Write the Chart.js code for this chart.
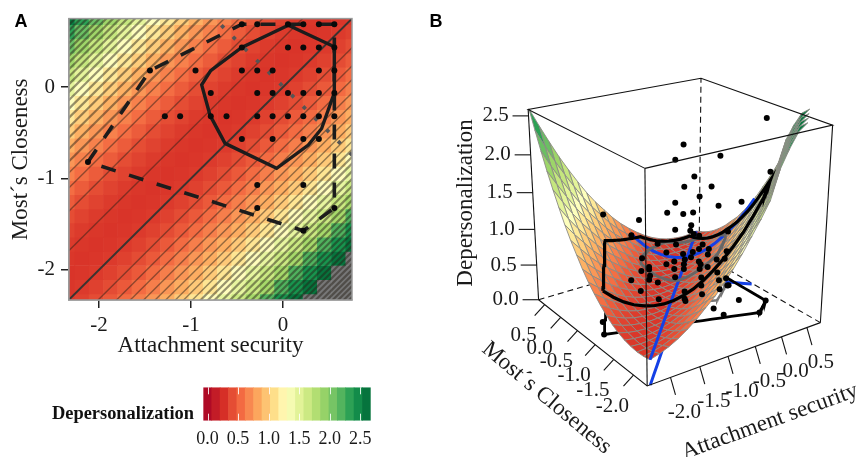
<!DOCTYPE html>
<html>
<head>
<meta charset="utf-8">
<script src="https://cdn.jsdelivr.net/npm/chart.js@4/dist/chart.umd.min.js"></script>
<style>
body { margin: 0; background: #fff; }
canvas { position: absolute; }
</style>
</head>
<body>
<canvas id="panelA" width="400" height="360" style="left:0px;top:0px"></canvas>
<canvas id="legendBar" width="400" height="87" style="left:0px;top:370px"></canvas>
<canvas id="panelB" width="441" height="457" style="left:420px;top:0px"></canvas>
<script>
const SERIF = "'Liberation Serif'";

// fitted surface, read along the diagonals of the heat map (attachment - closeness)
const gridX = [-2.34, -2.185, -2.03, -1.875, -1.72, -1.565, -1.41, -1.255, -1.1, -0.945, -0.79, -0.635, -0.48, -0.325, -0.17, -0.015, 0.14, 0.295, 0.45, 0.605, 0.76];
const gridY = [-2.34, -2.185, -2.03, -1.875, -1.72, -1.565, -1.41, -1.255, -1.1, -0.945, -0.79, -0.635, -0.48, -0.325, -0.17, -0.015, 0.14, 0.295, 0.45, 0.605, 0.76];
const depProfile = [
    2.57, 2.33, 2.1, 1.88, 1.68, 1.49, 1.31, 1.15, 1.01, 0.87,
    0.75, 0.65, 0.56, 0.48, 0.415, 0.365, 0.33, 0.31, 0.3, 0.306,
    0.326,
    0.36, 0.408, 0.47, 0.55, 0.64, 0.75, 0.856, 0.99, 1.13, 1.29,
    1.47, 1.65, 1.85, 2.2, 2.42, 2.6, 2.68, null, null, null,
];
const profileStep = 0.155;

// contour lines, as attachment - closeness at which they cross
const contourMain = [0];
const contourOffsets = [
    -3.073, -3.01, -2.946, -2.88, -2.812, -2.742, -2.671, -2.597, -2.521, -2.442,
    -2.359, -2.274, -2.185, -2.091, -1.992, -1.887, -1.774, -1.652, -1.515, -1.388,
    -1.225, -0.971, -0.537,
    0.32, 0.52, 0.67, 0.815, 0.94, 1.055, 1.16, 1.25, 1.345, 1.435, 1.515, 1.587,
    1.672, 1.755, 1.835, 1.913, 1.99, 2.065, 2.14, 2.21, 2.28, 2.35, 2.42, 2.49,
    2.555, 2.62, 2.685, 2.75, 2.81, 2.87, 2.93, 2.99, 3.05,
];

// participants on the attachment / closeness plane
const pointX = [
    -0.447, -0.28, 0.054, 0.221, 0.39, 0.558,
    -0.447, 0.054, 0.221, 0.39, 0.558,
    -1.446, -0.951, -0.447, -0.28, -0.113, 0.39, 0.558,
    -0.785, -0.28, -0.113, 0.054, 0.221, 0.39, 0.558,
    -1.284, -1.118, -0.785, -0.614, -0.28, -0.113, 0.054, 0.221, 0.39, 0.558,
    -0.447, -0.113, 0.221, 0.39,
    -2.12,
    -0.28, 0.221,
    -0.28, 0.558,
    0.221,
];
const pointY = [
    0.688, 0.688, 0.688, 0.688, 0.688, 0.688,
    0.435, 0.435, 0.435, 0.435, 0.435,
    0.181, 0.181, 0.181, 0.181, 0.181, 0.181, 0.181,
    -0.065, -0.065, -0.065, -0.065, -0.065, -0.065, -0.065,
    -0.319, -0.319, -0.319, -0.319, -0.319, -0.319, -0.319, -0.319, -0.319, -0.319,
    -0.569, -0.569, -0.569, -0.569,
    -0.82,
    -1.072, -1.072,
    -1.322, -1.322,
    -1.572,
];

// line of incongruence markers
const markX = [-0.656, -0.53, -0.403, -0.275, -0.148, -0.022, 0.105, 0.232, 0.359, 0.486, 0.612, 0.739];
const markY = [0.663, 0.537, 0.41, 0.283, 0.156, 0.029, -0.098, -0.225, -0.351, -0.478, -0.605, -0.732];

const bagX = [0.058, 0.558, 0.558, 0.42, 0.275, -0.069, -0.63, -0.793, -0.884, -0.786, -0.449, 0.058];
const bagY = [0.678, 0.442, -0.062, -0.453, -0.634, -0.888, -0.616, -0.308, 0.025, 0.181, 0.435, 0.678];
const loopX = [-2.12, -1.446, -0.447, 0.558, 0.558, 0.221, -2.12];
const loopY = [-0.82, 0.181, 0.688, 0.688, -1.322, -1.572, -0.82];

// 3d cloud
const scoreX = [
    0.62, -0.26, -0.35, 0.14, 0.68, -0.14, -0.25, 0.05, -0.08, -0.35, 0.38, 0.13, -0.44, -0.26, -0.15, -1.17, -0.76, -0.17, -0.35,
    -0.18, -0.14, -0.08, -0.85, 0.24, -0.55, -0.34, -0.04, -0.08, 0.03, -0.45, -0.26, -0.15, -0.17, -0.24, 0.23, -0.73, -0.36,
    -0.25, -0.08, -0.06, 0.12, 0.21, 0.02, -0.65, -0.65, -0.45, -0.36, -0.25, -0.07, 0.02, -0.74, -0.64, -0.65, -0.55, -0.86,
    -0.35, -0.05, 0.13, 0.15, -0.75, 0.16, -0.05, -0.24, -0.04, -0.54, -0.24, -0.23, -1.21, 0.23, 0.26,
];
const scoreY = [
    -1.12, -0.24, -0.15, -0.64, -1.18, -0.36, -0.25, -0.55, -0.42, -0.15, -0.88, -0.63, -0.06, -0.24, -0.35, 0.67, 0.26, -0.33, -0.15,
    -0.32, -0.36, -0.42, 0.35, -0.74, 0.05, -0.16, -0.46, -0.42, -0.53, -0.05, -0.24, -0.35, -0.33, -0.26, -0.73, 0.23, -0.14,
    -0.25, -0.42, -0.44, -0.62, -0.71, -0.52, 0.15, 0.15, -0.05, -0.14, -0.25, -0.43, -0.52, 0.24, 0.14, 0.15, 0.05, 0.36,
    -0.15, -0.45, -0.63, -0.65, 0.25, -0.66, -0.45, -0.26, -0.46, 0.04, -0.26, -0.27, 0.71, -0.73, -0.76,
];
const scoreZ = [
    2.43, 2.02, 1.81, 1.9, 1.73, 1.6, 1.45, 1.48, 1.33, 1.22, 1.3, 1.22, 1.07, 1.07, 1.1, 0.98, 0.94, 0.92, 0.84, 0.84, 0.8,
    0.78, 0.71, 0.87, 0.62, 0.63, 0.66, 0.59, 0.6, 0.5, 0.5, 0.54, 0.46, 0.42, 0.59, 0.39, 0.38, 0.35, 0.41, 0.37, 0.46, 0.48,
    0.52, 0.27, 0.23, 0.33, 0.27, 0.28, 0.3, 0.34, 0.2, 0.14, 0.08, 0.05, 0.05, 0.15, 0.18, 0.27, 0.16, -0.1, 0.03, 0.06, -0.05,
    -0.07, -0.2, -0.16, -0.19, -0.63, 0.2, 0.1,
];

// ticks
const ticksA = [-2, -1, 0];
const ticks3dX = [-2, -1.5, -1, -0.5, 0, 0.5];
const ticks3dY = [-2, -1.5, -1, -0.5, 0, 0.5];
const ticks3dZ = [0, 0.5, 1, 1.5, 2, 2.5];
const legendTicks = [0, 0.5, 1, 1.5, 2, 2.5];

// colour scale
const paletteValues = [-0.07, 0.28, 0.56, 0.86, 1.1, 1.3, 1.574, 1.848, 2.122, 2.396, 2.67];
const paletteColors = ["#a50026", "#d73027", "#f46d43", "#fdae61", "#fee08b", "#ffffbf", "#d9ef8b", "#a6d96a", "#66bd63", "#1a9850", "#006837"];
const legendLevels = [0, 0.137, 0.274, 0.411, 0.548, 0.685, 0.822, 0.959, 1.096, 1.233, 1.37, 1.507, 1.644, 1.781, 1.918, 2.055, 2.192, 2.329, 2.466, 2.603];

function hexRgb(h) {
    return [1, 3, 5].map((i) => parseInt(h.slice(i, i + 2), 16));
}

function colourFor(z) {
    if (z === null || z > 2.65) return "#777777";
    let i = 0;
    while (i < paletteValues.length - 2 && z > paletteValues[i + 1]) i++;
    const t = Math.min(1, Math.max(0, (z - paletteValues[i]) / (paletteValues[i + 1] - paletteValues[i])));
    const a = hexRgb(paletteColors[i]);
    const b = hexRgb(paletteColors[i + 1]);
    return `rgb(${a.map((c, n) => Math.round(c + (b[n] - c) * t)).join(",")})`;
}

function line(data, color, width, extra) {
    return Object.assign({
        data: data,
        showLine: true,
        borderColor: color,
        backgroundColor: color,
        borderWidth: width,
        pointRadius: 0,
        tension: 0,
    }, extra);
}

function text(ctx, str, x, y, font, opts) {
    const o = opts || {};
    ctx.save();
    ctx.translate(x, y);
    if (o.rot) ctx.rotate(o.rot);
    ctx.font = font;
    ctx.fillStyle = o.color || "#1a1a1a";
    ctx.textAlign = o.align || "center";
    ctx.textBaseline = "middle";
    ctx.fillText(str, 0, 0);
    ctx.restore();
}

/* ---------- panel A ---------- */
const heatCells = [];
const heatColors = [];
gridY.forEach((y, j) => {
    gridX.forEach((x, i) => {
        heatCells.push({ x: x, y: y });
        heatColors.push(colourFor(depProfile[i - j + 20]));
    });
});

const contourSets = contourOffsets.map((c) =>
    line([{ x: -4, y: -4 - c }, { x: 2, y: 2 - c }], "rgba(38,32,24,0.48)", Math.abs(c) > 1.4 ? 2.2 : 1.4, {})
);
const contourMainSets = contourMain.map((c) =>
    line([{ x: -4, y: -4 - c }, { x: 2, y: 2 - c }], "#3a3330", 2, {})
);

const zip = (xs, ys) => xs.map((x, i) => ({ x: x, y: ys[i] }));

new Chart(document.getElementById("panelA"), {
    type: "scatter",
    data: {
        datasets: [
            {
                data: zip(pointX, pointY),
                backgroundColor: "#0a0a0a",
                pointRadius: 3,
                pointBorderWidth: 0,
                clip: false,
            },
            line(zip(bagX, bagY), "#1c1c1c", 3.4, { borderJoinStyle: "miter" }),
            line(zip(loopX, loopY), "#1c1c1c", 3.6, { borderDash: [15, 14] }),
            {
                data: zip(markX, markY),
                backgroundColor: "#555",
                pointStyle: "rectRot",
                pointRadius: 2.6,
                pointBorderWidth: 0,
            },
            ...contourMainSets,
            ...contourSets,
            {
                data: heatCells,
                pointStyle: "rect",
                pointBackgroundColor: heatColors,
                pointBorderWidth: 0,
                pointRadius: 10.5,
                clip: 0,
            },
        ],
    },
    options: {
        responsive: false,
        animation: false,
        events: [],
        layout: { padding: { top: 16, right: 48, left: 0, bottom: 0 } },
        plugins: { legend: { display: false }, tooltip: { enabled: false } },
        scales: {
            x: {
                type: "linear",
                min: -2.326,
                max: 0.75,
                afterBuildTicks: (s) => { s.ticks = ticksA.map((v) => ({ value: v })); },
                afterFit: (s) => { s.height = 60; },
                border: { color: "#999", width: 1.5 },
                grid: { drawOnChartArea: false, drawTicks: true, tickLength: 8, color: "#222", lineWidth: 1.5 },
                ticks: { color: "#1a1a1a", padding: 5, maxRotation: 0, font: { family: SERIF, size: 21 }, callback: (v) => String(v) },
                title: { display: true, text: "Attachment security", color: "#1a1a1a", padding: 0, font: { family: SERIF, size: 23 } },
            },
            y: {
                type: "linear",
                min: -2.33,
                max: 0.75,
                afterBuildTicks: (s) => { s.ticks = ticksA.map((v) => ({ value: v })); },
                afterFit: (s) => { s.width = 69; },
                border: { color: "#999", width: 1.5 },
                grid: { drawOnChartArea: false, drawTicks: true, tickLength: 8, color: "#222", lineWidth: 1.5 },
                ticks: { color: "#1a1a1a", padding: 6, font: { family: SERIF, size: 21 }, callback: (v) => String(v) },
                title: { display: true, text: "Most\u00b4s Closeness", color: "#1a1a1a", padding: { top: 7, bottom: 0 }, font: { family: SERIF, size: 23 } },
            },
        },
    },
    plugins: [{
        id: "frameA",
        afterDraw(chart) {
            const { ctx, chartArea: a } = chart;
            ctx.save();
            ctx.strokeStyle = "#999";
            ctx.lineWidth = 1.5;
            ctx.strokeRect(a.left, a.top, a.right - a.left, a.bottom - a.top);
            ctx.restore();
            text(ctx, "A", 21, 22, "bold 18px 'Liberation Sans'", { color: "#000" });
        },
    }],
});

/* ---------- colour bar ---------- */
new Chart(document.getElementById("legendBar"), {
    type: "bar",
    data: {
        datasets: [{
            data: legendLevels.map((v) => ({ x: v, y: 1 })),
            backgroundColor: legendLevels.map(colourFor),
            borderWidth: 0,
            barPercentage: 1.08,
            categoryPercentage: 1,
        }],
    },
    options: {
        responsive: false,
        animation: false,
        events: [],
        layout: { padding: { top: 17.3, right: 29.3, left: 0, bottom: 0 } },
        plugins: { legend: { display: false }, tooltip: { enabled: false } },
        scales: {
            x: {
                type: "linear",
                min: -0.07,
                max: 2.67,
                offset: false,
                afterBuildTicks: (s) => { s.ticks = legendTicks.map((v) => ({ value: v })); },
                afterFit: (s) => { s.height = 36.3; },
                border: { display: false },
                grid: { display: false },
                ticks: { color: "#1a1a1a", padding: 0, maxRotation: 0, font: { family: SERIF, size: 18 }, callback: (v) => v.toFixed(1) },
            },
            y: {
                min: 0,
                max: 1,
                display: true,
                afterFit: (s) => { s.width = 203.3; },
                border: { display: false },
                grid: { display: false },
                ticks: { display: false },
            },
        },
    },
    plugins: [{
        id: "legendMarks",
        afterDatasetsDraw(chart) {
            const { ctx, chartArea: a, scales } = chart;
            ctx.save();
            ctx.strokeStyle = "rgba(255,255,255,0.85)";
            ctx.lineWidth = 1;
            legendTicks.forEach((v) => {
                const px = Math.round(scales.x.getPixelForValue(v)) + 0.5;
                ctx.beginPath();
                ctx.moveTo(px, a.top);
                ctx.lineTo(px, a.top + 7);
                ctx.moveTo(px, a.bottom - 7);
                ctx.lineTo(px, a.bottom);
                ctx.stroke();
            });
            ctx.restore();
            text(ctx, "Depersonalization", 194, 44, "bold 18.4px " + SERIF, { align: "right", color: "#111" });
        },
    }],
});

/* ---------- panel B ---------- */
const xMin = -2.385, xSpan = 3.157, ySpan = 3.03, yMin = -2.333, zSpan = 2.58;
const O = [647.3, 388.7], U = [823.7, 324.3], V = [536.7, 301], W = [645, 167.3];
const wU = 1.12, wV = 1.17, wW = 0.915;

// perspective view fitted to the corners of the box
function project(x, y, z) {
    const u = (x - xMin) / xSpan, v = (y - yMin) / ySpan, w = z / zSpan;
    const d = 1 + u * (wU - 1) + v * (wV - 1) + w * (wW - 1);
    const p = [0, 1].map((i) => O[i] + u * (wU * U[i] - O[i]) + v * (wV * V[i] - O[i]) + w * (wW * W[i] - O[i]));
    return { x: p[0] / d, y: p[1] / d };
}

function depAt(d) {
    const t = Math.max(0, Math.min(40, d / profileStep + 20));
    const i = Math.min(39, Math.floor(t));
    const a = depProfile[i], b = depProfile[i + 1];
    if (a === null || b === null) return a === null ? b : a;
    return a + (b - a) * (t - i);
}

// follow a polygon over the surface (draped) or over the floor
function pathOn(xs, ys, draped) {
    const out = [];
    for (let i = 0; i < xs.length - 1; i++) {
        for (let s = 0; s <= 16; s++) {
            const x = xs[i] + (xs[i + 1] - xs[i]) * s / 16;
            const y = ys[i] + (ys[i + 1] - ys[i]) * s / 16;
            out.push(project(x, y, draped ? depAt(x - y) : 0));
        }
    }
    return out;
}

const locX = [-2.34, 0.75], locY = [-2.34, 0.75];
const loicX = [-0.66, 0.75], loicY = [0.66, -0.75];
const xMax = xMin + xSpan, yMax = yMin + ySpan;

const surfaceVerts = [];
gridY.forEach((y, j) => {
    gridX.forEach((x, i) => {
        const z = depProfile[i - j + 20];
        surfaceVerts.push(project(x, y, z === null ? 0 : z));
    });
});

const BLUE = "#1440e6";
const boxColor = "#111";
const datasetsB = [
    // hidden edges behind the surface
    line([project(xMin, yMax, 0), project(xMax, yMax, 0)], boxColor, 1.1, { borderDash: [6, 4], order: 9 }),
    line([project(xMax, yMin, 0), project(xMax, yMax, 0)], boxColor, 1.1, { borderDash: [6, 4], order: 9 }),
    line([project(xMax, yMax, 0), project(xMax, yMax, zSpan)], boxColor, 1.1, { borderDash: [6, 4], order: 9 }),
    // floor projection
    line(pathOn(bagX, bagY, false), "#777", 2.5, { order: 8 }),
    line(pathOn(loopX, loopY, false), "#000", 2.8, { order: 8 }),
    line(pathOn(locX, locY, false), BLUE, 3, { order: 8 }),
    line(pathOn(loicX, loicY, false), BLUE, 3, { order: 8 }),
    {
        data: pointX.map((x, i) => project(x, pointY[i], 0)),
        backgroundColor: "#000",
        pointRadius: 3,
        pointBorderWidth: 0,
        order: 7,
    },
    { data: surfaceVerts, surfaceLayer: true, pointRadius: 0, order: 5 },
    // on the surface
    line(pathOn(locX, locY, true), BLUE, 3, { order: 4 }),
    line(pathOn(loicX, loicY, true), BLUE, 3, { order: 4 }),
    line(pathOn(bagX, bagY, true), "#666", 2.8, { order: 3.5 }),
    line(pathOn(loopX, loopY, true), "#000", 3.2, { order: 3 }),
    {
        data: scoreX.map((x, i) => project(x, scoreY[i], scoreZ[i])),
        backgroundColor: "#000",
        pointRadius: 3,
        pointBorderWidth: 0,
        order: 2,
    },
    // visible box edges
    line([project(xMin, yMin, 0), project(xMin, yMin, zSpan)], boxColor, 1.1, { order: 1 }),
    line([project(xMax, yMin, 0), project(xMax, yMin, zSpan)], boxColor, 1.1, { order: 1 }),
    line([project(xMin, yMax, 0), project(xMin, yMax, zSpan)], boxColor, 1.1, { order: 1 }),
    line([project(xMin, yMax, 0), project(xMin, yMin, 0), project(xMax, yMin, 0)], boxColor, 1.1, { order: 1 }),
    line([project(xMin, yMin, zSpan), project(xMax, yMin, zSpan), project(xMax, yMax, zSpan), project(xMin, yMax, zSpan), project(xMin, yMin, zSpan)], boxColor, 1.1, { order: 1 }),
];

new Chart(document.getElementById("panelB"), {
    type: "scatter",
    data: { datasets: datasetsB },
    options: {
        responsive: false,
        animation: false,
        events: [],
        layout: { padding: 0 },
        plugins: { legend: { display: false }, tooltip: { enabled: false } },
        scales: {
            x: { type: "linear", min: 420, max: 861, display: false },
            y: { type: "linear", min: 0, max: 457, reverse: true, display: false },
        },
    },
    plugins: [{
        id: "surface",
        beforeDatasetDraw(chart, args) {
            const ds = chart.data.datasets[args.index];
            if (!ds.surfaceLayer) return;
            const ctx = chart.ctx;
            const pts = chart.getDatasetMeta(args.index).data;
            const n = gridX.length;
            const cells = [];
            for (let j = 0; j < n - 1; j++) {
                for (let i = 0; i < n - 1; i++) cells.push([i, j]);
            }
            cells.sort((a, b) => (b[0] + b[1]) - (a[0] + a[1]));
            ctx.save();
            ctx.lineWidth = 0.9;
            ctx.strokeStyle = "#8b8b84";
            cells.forEach(([i, j]) => {
                const z = [[i, j], [i + 1, j], [i + 1, j + 1], [i, j + 1]].map(([a, b]) => depProfile[a - b + 20]);
                if (z.includes(null)) return;
                const mean = z.reduce((s, v) => s + v, 0) / 4;
                const c = [j * n + i, j * n + i + 1, (j + 1) * n + i + 1, (j + 1) * n + i].map((k) => pts[k]);
                ctx.beginPath();
                ctx.moveTo(c[0].x, c[0].y);
                c.slice(1).forEach((p) => ctx.lineTo(p.x, p.y));
                ctx.closePath();
                ctx.fillStyle = colourFor(mean);
                ctx.fill();
                ctx.stroke();
            });
            ctx.restore();
        },
        afterDraw(chart) {
            const { ctx, scales } = chart;
            const px = (p) => ({ x: scales.x.getPixelForValue(p.x), y: scales.y.getPixelForValue(p.y) });
            const font = "21px " + SERIF;
            const tick = (p, dx, dy) => {
                ctx.save();
                ctx.strokeStyle = "#111";
                ctx.lineWidth = 1.1;
                ctx.beginPath();
                ctx.moveTo(p.x, p.y);
                ctx.lineTo(p.x + dx, p.y + dy);
                ctx.stroke();
                ctx.restore();
            };
            ticks3dX.forEach((v) => {
                const p = px(project(v, yMin, 0));
                tick(p, 5, 17.5);
                text(ctx, v.toFixed(1), p.x + 14, p.y + 35, font);
            });
            ticks3dY.forEach((v) => {
                const p = px(project(xMin, v, 0));
                tick(p, -10, 11);
                text(ctx, v.toFixed(1), p.x - 21, p.y + 31, font);
            });
            ticks3dZ.forEach((v) => {
                const p = px(project(xMin, yMax, v));
                tick(p, -16, 0);
                text(ctx, v.toFixed(1), p.x - 33, p.y, font);
            });
            text(ctx, "Depersonalization", 46, 203, "23px " + SERIF, { rot: -Math.PI / 2 });
            text(ctx, "Most\u00b4s Closeness", 126.7, 398, "23px " + SERIF, { rot: 40 * Math.PI / 180 });
            text(ctx, "Attachment security", 350, 421.7, "23px " + SERIF, { rot: -20 * Math.PI / 180 });
            text(ctx, "B", 16, 22, "bold 18px 'Liberation Sans'", { color: "#000" });
        },
    }],
});
</script>
</body>
</html>
